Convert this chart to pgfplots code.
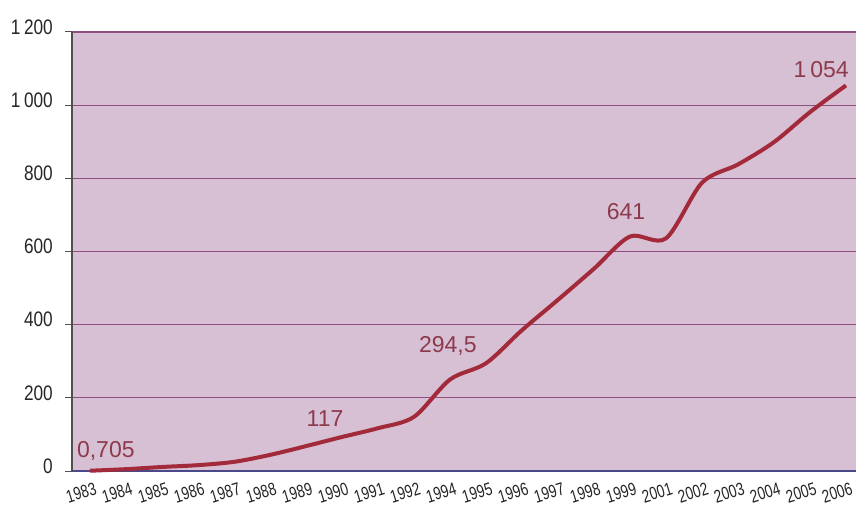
\documentclass[border=0pt]{standalone}
\usepackage{pgfplots}
\pgfplotsset{compat=1.18}
\usepackage{fontspec}
\setmainfont{Liberation Sans}
\newfontfamily\narrowfont{Liberation Sans}[FakeStretch=0.82]
\newfontfamily\narrowerfont{Liberation Sans}[FakeStretch=0.76]
\definecolor{bgcol}{HTML}{D8C0D4}
\definecolor{gridcol}{HTML}{8E4E80}
\definecolor{linecol}{HTML}{A32A3A}
\definecolor{labcol}{HTML}{8C3A4C}
\definecolor{xaxcol}{HTML}{4A4A8A}
\definecolor{yaxcol}{HTML}{505050}
\begin{document}
\begin{tikzpicture}[x=1pt,y=1pt]
\useasboundingbox (0,0) rectangle (856,506);
\begin{axis}[
  at={(72pt,35pt)}, anchor=south west,
  scale only axis, width=784pt, height=439pt,
  xmin=-0.5, xmax=21.278, ymin=0, ymax=1200,
  axis x line=bottom, axis y line=left,
  axis line style={-},
  x axis line style={xaxcol, line width=1.2pt},
  y axis line style={yaxcol, line width=1.2pt},
  axis background/.style={fill=bgcol},
  ymajorgrids, grid style={gridcol, line width=1.2pt},
  ytick={0,200,400,600,800,1000,1200},
  yticklabels={0,200,400,600,800,1\,000,1\,200},
  y tick style={yaxcol, line width=1pt},
  major tick length=7pt,
  tick align=outside,
  yticklabel style={font=\narrowfont\fontsize{21}{24}\selectfont, text=black!85, anchor=east, inner sep=0pt, xshift=-12pt, yshift=5pt},
  xtick={0,...,21},
  xticklabels={1983,1984,1985,1986,1987,1988,1989,1990,1991,1992,1994,1995,1996,1997,1998,1999,2001,2002,2003,2004,2005,2006},
  x tick style={draw=none},
  minor xtick={-0.5,0.5,...,20.5},
  minor x tick style={xaxcol, line width=1pt},
  minor tick length=5pt,
  xticklabel style={font=\narrowerfont\fontsize{18}{20}\selectfont, text=black!85, inner sep=0pt, xshift=4pt, yshift=-4pt, rotate=17, anchor=north east},
  clip=false,
]
\addplot[smooth, tension=0.5, color=linecol, line width=4pt] coordinates {
(0,0.705) (1,5) (2,11) (3,16) (4,25) (5,44) (6,68) (7,93) (8,117) (9,148)
(10,250) (11,294.5) (12,385) (13,468) (14,553) (15,641) (16,636) (17,788)
(18,838) (19,899) (20,981) (21,1054)
};
\begin{scope}[every node/.style={font=\fontsize{23}{26}\selectfont, text=labcol, inner sep=0pt}]
\node at (axis cs:0.44,55) {0,705};
\node at (axis cs:6.53,142.5) {117};
\node at (axis cs:9.94,342) {294,5};
\node at (axis cs:14.89,710) {641};
\node at (axis cs:20.31,1096) {1\,054};
\end{scope}
\end{axis}
\end{tikzpicture}
\end{document}
